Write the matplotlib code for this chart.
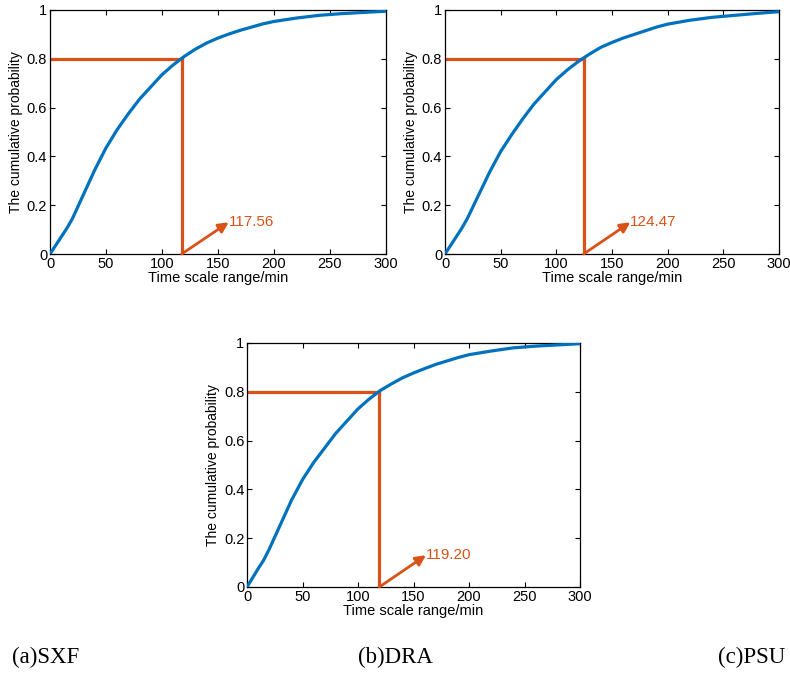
import matplotlib
matplotlib.use("Agg")
import matplotlib.pyplot as plt

plt.rcParams['font.family'] = ['Liberation Sans', 'DejaVu Sans']

time_min = [0, 10, 15, 20, 30, 40, 50, 60, 70, 80, 90, 100, 110, 120, 130, 140, 150,
            160, 170, 180, 190, 200, 220, 240, 260, 280, 300]
prob_sxf = [0, 0.07, 0.105, 0.145, 0.245, 0.345, 0.435, 0.51, 0.575, 0.635, 0.685, 0.735,
            0.775, 0.81, 0.84, 0.865, 0.885, 0.902, 0.917, 0.93, 0.943, 0.953, 0.967,
            0.978, 0.985, 0.99, 0.995]
prob_dra = [0, 0.07, 0.105, 0.145, 0.24, 0.335, 0.42, 0.49, 0.555, 0.615, 0.665, 0.715,
            0.755, 0.79, 0.82, 0.847, 0.867, 0.885, 0.9, 0.915, 0.93, 0.942, 0.958,
            0.97, 0.978, 0.986, 0.993]
prob_psu = [0, 0.075, 0.11, 0.155, 0.255, 0.355, 0.44, 0.51, 0.57, 0.63, 0.68, 0.73,
            0.77, 0.805, 0.832, 0.857, 0.877, 0.895, 0.912, 0.926, 0.94, 0.952, 0.967,
            0.98, 0.987, 0.992, 0.997]
thresholds = [117.56, 124.47, 119.20]
threshold_labels = ["117.56", "124.47", "119.20"]
level = 0.8
captions = ["(a)SXF", "(b)DRA", "(c)PSU"]

x_ticks = [0, 50, 100, 150, 200, 250, 300]
y_ticks = [0, 0.2, 0.4, 0.6, 0.8, 1.0]
y_ticklabels = ["0", "0.2", "0.4", "0.6", "0.8", "1"]

BLUE = "#0072BD"
ORANGE = "#D95319"

fig = plt.figure(figsize=(7.9, 6.75), dpi=100)
positions = [
    [0.0633, 0.6237, 0.4253, 0.3615],
    [0.5633, 0.6237, 0.4228, 0.3615],
    [0.3127, 0.1304, 0.4215, 0.3615],
]
series = [prob_sxf, prob_dra, prob_psu]

for pos, probs, thr, lab in zip(positions, series, thresholds, threshold_labels):
    ax = fig.add_axes(pos)
    ax.plot(time_min, probs, color=BLUE, lw=2.3, solid_capstyle='round',
            solid_joinstyle='round', zorder=3)
    ax.plot([0, thr], [level, level], color=ORANGE, lw=2.3, zorder=2)
    ax.plot([thr, thr], [level, 0], color=ORANGE, lw=2.3, zorder=2)
    ax.annotate("", xy=(thr + 42, 0.13), xytext=(thr, 0),
                arrowprops=dict(arrowstyle="-|>,head_length=0.6,head_width=0.3",
                                color=ORANGE, lw=2.0, shrinkA=0, shrinkB=0))
    ax.text(thr + 42, 0.133, lab, color=ORANGE, fontsize=11, va='center', ha='left')
    ax.set_xlim(0, 300)
    ax.set_ylim(0, 1)
    ax.set_xticks(x_ticks)
    ax.set_yticks(y_ticks)
    ax.set_yticklabels(y_ticklabels)
    ax.tick_params(direction='in', top=True, right=True, length=3.5, width=0.8,
                   labelsize=10.5, pad=2, colors='black')
    for s in ax.spines.values():
        s.set_linewidth(0.9)
    ax.set_xlabel("Time scale range/min", fontsize=10.5, labelpad=0)
    ax.set_ylabel("The cumulative probability", fontsize=10, labelpad=3)

cap_x = [12, 358, 718]
for cx, cap in zip(cap_x, captions):
    fig.text(cx / 790, 1 - 657 / 675, cap, fontsize=16.5,
             family=['Liberation Serif', 'DejaVu Serif'], va='center', ha='left')

fig.savefig("out.png", dpi=100, facecolor='white')
